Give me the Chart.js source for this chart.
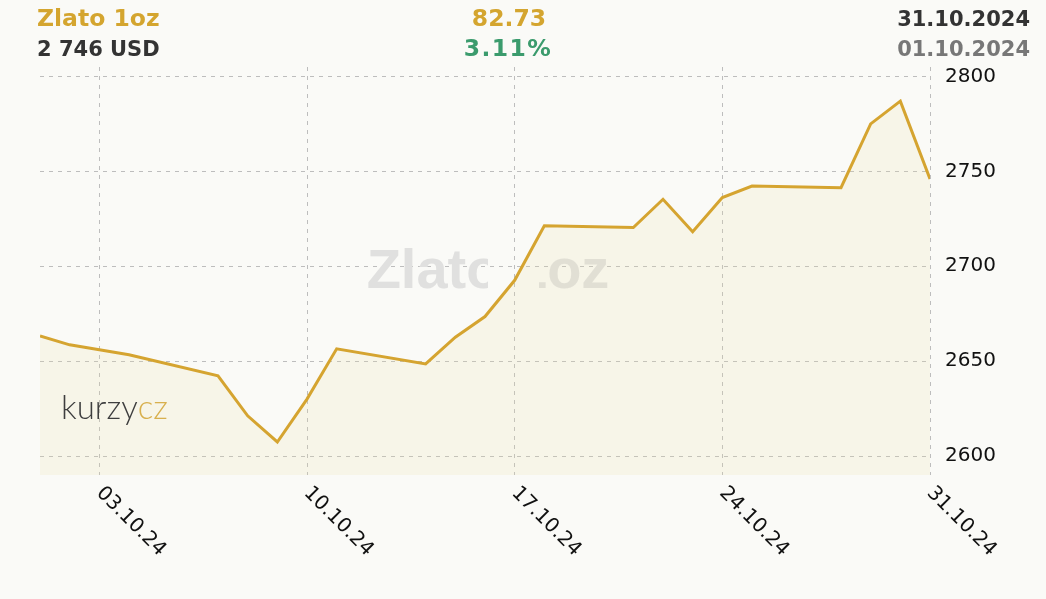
<!DOCTYPE html>
<html><head><meta charset="utf-8">
<script src="https://cdn.jsdelivr.net/npm/chart.js@4.4.1/dist/chart.umd.min.js"></script>
<style>
html,body{margin:0;padding:0;background:#fafaf7;}
#wrap{position:relative;width:1046px;height:599px;overflow:hidden;background:#fafaf7;}
canvas{position:absolute;left:0;top:0;}
.h{position:absolute;font-family:"DejaVu Sans";font-weight:bold;font-size:23px;line-height:30px;white-space:nowrap;}
</style></head><body>
<div id="wrap">
<canvas id="c" width="1046" height="599"></canvas>
<div class="h" id="t1" style="left:37px;top:3px;color:#d4a52f;font-size:23.5px"></div>
<div class="h" id="t2" style="left:37px;top:34px;color:#333;font-size:21px"></div>
<div class="h" id="t3" style="left:509px;top:3px;color:#d4a52f;font-size:23.5px;transform:translateX(-50%)"></div>
<div class="h" id="t4" style="left:508px;top:33px;color:#3b9b6d;font-size:23.5px;letter-spacing:1.4px;transform:translateX(-50%)"></div>
<div class="h" id="t5" style="right:16px;top:4px;color:#333;font-size:21px"></div>
<div class="h" id="t6" style="right:16px;top:34px;color:#777;font-size:21px"></div>
</div>
<script>
const days   = [1, 2, 3, 4, 7, 8, 9, 10, 11, 14, 15, 16, 17, 18, 21, 22, 23, 24, 25, 28, 29, 30, 31];
const prices = [2663.3, 2658.6, 2656, 2653.4, 2642.3, 2621.2, 2607.4, 2630, 2656.5, 2648.5, 2662.6, 2673.5, 2692.6, 2721.3, 2720.4, 2735.3, 2718.2, 2736.2, 2742.3, 2741.4, 2775, 2787, 2746];
const xTickDays   = [3, 10, 17, 24, 31];
const xTickLabels = ['03.10.24', '10.10.24', '17.10.24', '24.10.24', '31.10.24'];
const yTicks = [2600, 2650, 2700, 2750, 2800];
const headerTexts = ['Zlato 1oz', '2 746 USD', '82.73', '3.11%', '31.10.2024', '01.10.2024'];
const watermarkText = 'Zlato 1oz';
const logoParts = ['kurzy', 'cz'];

headerTexts.forEach((t, i) => { document.getElementById('t' + (i + 1)).textContent = t; });

const decor = {
  id: 'decor',
  beforeDatasetsDraw(chart) {
    const c = chart.ctx, a = chart.chartArea;
    c.save();
    c.beginPath();
    c.rect(0, 0, 488, 599);
    c.rect(539, 0, 1046 - 539, 599);
    c.clip();
    c.font = 'bold 56px "Liberation Sans"';
    c.fillStyle = '#e0e0df';
    c.textAlign = 'center';
    c.textBaseline = 'alphabetic';
    c.fillText(watermarkText, (a.left + a.right) / 2 + 3, 288);
    c.restore();
  },
  afterDraw(chart) {
    const c = chart.ctx, xs = chart.scales.x, a = chart.chartArea;
    c.save();
    c.font = '20px "DejaVu Sans"';
    c.fillStyle = '#111';
    c.textAlign = 'left';
    c.textBaseline = 'middle';
    xs.ticks.forEach(t => {
      const idx = xTickDays.indexOf(t.value);
      if (idx < 0) return;
      const px = xs.getPixelForValue(t.value);
      c.save();
      c.translate(px, a.bottom + 15);
      c.rotate(Math.PI / 4);
      c.fillText(xTickLabels[idx], 0, 0);
      c.restore();
    });
    // logo
    c.font = '300 33px Lato';
    c.textBaseline = 'alphabetic';
    c.fillStyle = '#3e3e3e';
    c.fillText(logoParts[0], 61, 419);
    const w = c.measureText(logoParts[0]).width;
    c.fillStyle = '#d8b04e';
    c.fillText(logoParts[1], 61 + w, 419);
    c.restore();
  }
};

new Chart(document.getElementById('c'), {
  type: 'line',
  data: {
    datasets: [{
      data: days.map((d, i) => ({ x: d, y: prices[i] })),
      borderColor: '#d5a430',
      borderWidth: 3,
      backgroundColor: 'rgba(232,224,165,0.18)',
      fill: 'start',
      pointRadius: 0,
      tension: 0,
      borderJoinStyle: 'miter'
    }]
  },
  options: {
    responsive: false,
    animation: false,
    devicePixelRatio: 1,
    layout: { padding: { left: 40, top: 67, right: 0, bottom: 0 } },
    plugins: { legend: { display: false }, tooltip: { enabled: false } },
    scales: {
      x: {
        type: 'linear', min: 1, max: 31,
        afterBuildTicks: s => { s.ticks = xTickDays.map(v => ({ value: v })); },
        ticks: { display: false },
        grid: { color: '#bdbdbd', lineWidth: 1, drawTicks: false },
        border: { display: false, dash: [4, 5] },
        afterFit: s => { s.height = 124; }
      },
      y: {
        position: 'right', min: 2590, max: 2805,
        afterBuildTicks: s => { s.ticks = yTicks.map(v => ({ value: v })); },
        ticks: { padding: 15, font: { family: 'DejaVu Sans', size: 20 }, color: '#111', callback: v => String(v) },
        grid: { color: '#bdbdbd', lineWidth: 1, drawTicks: false },
        border: { display: false, dash: [4, 5] },
        afterFit: s => { s.width = 116; }
      }
    }
  },
  plugins: [decor]
});
</script>
</body></html>
